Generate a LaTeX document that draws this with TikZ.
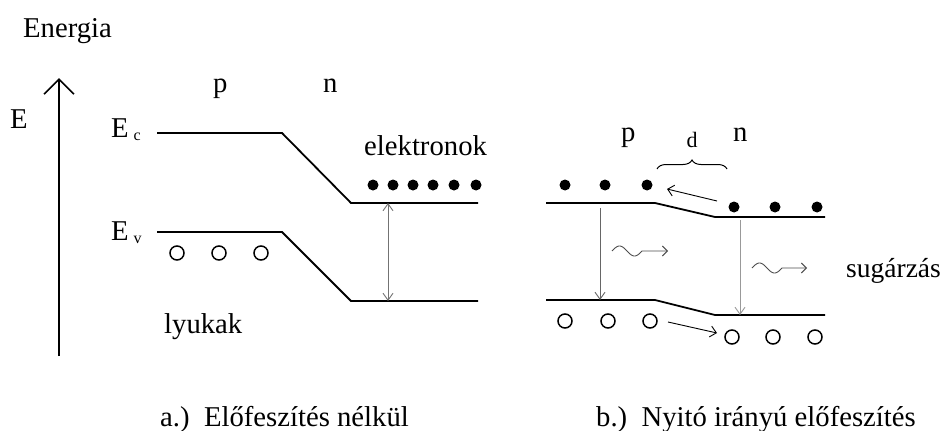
\documentclass[tikz,border=0pt]{standalone}
\usepackage{fontspec}
\setmainfont{Liberation Serif}
\usetikzlibrary{arrows.meta,decorations.pathreplacing}
\tikzset{
  lbl/.style={font=\fontsize{28.7}{34}\selectfont, inner sep=0pt, anchor=base west},
  band/.style={line width=1.8pt, black},
  gap/.style={line width=0.9pt, black!55},
  flow/.style={line width=0.9pt, black, -{Straight Barb[length=6pt,width=11pt]}},
  electron/.style={circle, fill=black, minimum size=11pt, inner sep=0pt},
  hole/.style={circle, draw=black, line width=1.5pt, minimum size=14pt, inner sep=0pt},
  wiggle/.style={line width=0.9pt, black!70, -{Straight Barb[length=5pt,width=10pt]}}
}
\newcommand{\sbs}[1]{\raisebox{-3pt}{\fontsize{16}{16}\selectfont #1}}
\begin{document}
\begin{tikzpicture}[x=1pt,y=-1pt]
\useasboundingbox (0,0) rectangle (946,431);

% energy axis
\node[lbl] (energia) at (23,37) {Energia};
\node[lbl] (elabel) at (10,128) {E};
\coordinate (axbot) at (59,356);
\coordinate (axtop) at (59,78);
\draw[line width=1.6pt, -{Straight Barb[length=15pt,width=30pt,line width=1.6pt]}] (axbot) -- (axtop);

% ---------- a.) without bias ----------
\node[lbl] (pa) at (213,92) {p};
\node[lbl] (na) at (323,92) {n};
\node[lbl] (ec) at (111,137) {E\,\sbs{c}};
\node[lbl] (ev) at (111,240) {E\,\sbs{v}};

\coordinate (c1) at (157,133); \coordinate (c2) at (282,133);
\coordinate (c3) at (351,203); \coordinate (c4) at (478,203);
\coordinate (v1) at (157,232); \coordinate (v2) at (282,232);
\coordinate (v3) at (351,301); \coordinate (v4) at (478,301);
\draw[band] (c1) -- (c2) -- (c3) -- (c4);
\draw[band] (v1) -- (v2) -- (v3) -- (v4);

\coordinate (gt) at (388,203); \coordinate (gb) at (388,301);
\draw[gap, {Straight Barb[length=7pt,width=10pt]}-{Straight Barb[length=7pt,width=10pt]}] (gt) -- (gb);

\node[lbl] (elek) at (364,155) {elektronok};
\foreach \x [count=\i] in {373,393,413,433,454,476}
  \node[electron] (ea\i) at (\x,185) {};
\foreach \x [count=\i] in {177,219,261}
  \node[hole] (ha\i) at (\x,253) {};
\node[lbl] (lyuk) at (164,333) {lyukak};

\node[lbl] (capa) at (160,426) {a.)\ \ Előfeszítés nélkül};

% ---------- b.) forward bias ----------
\node[lbl] (pb) at (621,141) {p};
\node[lbl] (nb) at (733,141) {n};
\node[font=\fontsize{22}{25}\selectfont, inner sep=0pt, anchor=base] (dlab) at (692,147) {d};
\coordinate (bl) at (657,169); \coordinate (br) at (727,169);
\draw[line width=1pt, decorate, decoration={brace, amplitude=9pt}] (bl) -- (br);

\coordinate (u1) at (546,203); \coordinate (u2) at (655,203);
\coordinate (u3) at (715,217); \coordinate (u4) at (825,217);
\coordinate (l1) at (546,300); \coordinate (l2) at (655,300);
\coordinate (l3) at (715,315); \coordinate (l4) at (825,315);
\draw[band] (u1) -- (u2) -- (u3) -- (u4);
\draw[band] (l1) -- (l2) -- (l3) -- (l4);

\foreach \x [count=\i] in {565,605,647}
  \node[electron] (ep\i) at (\x,185) {};
\foreach \x [count=\i] in {734,775,817}
  \node[electron] (en\i) at (\x,207) {};
\foreach \x [count=\i] in {565,608,650}
  \node[hole] (hp\i) at (\x,321) {};
\foreach \x [count=\i] in {732,773,815}
  \node[hole] (hn\i) at (\x,337) {};

% carriers drifting across the junction
\coordinate (ef) at (717,201); \coordinate (et) at (667,189);
\draw[flow] (ef) -- (et);
\coordinate (hf) at (668,322); \coordinate (ht) at (717,333);
\draw[flow] (hf) -- (ht);

% recombination
\coordinate (r1t) at (600,208); \coordinate (r1b) at (600,300);
\draw[line width=0.9pt, black!60, -{Straight Barb[length=7pt,width=10pt]}] (r1t) -- (r1b);
\coordinate (r2t) at (740,220); \coordinate (r2b) at (740,315);
\draw[line width=0.9pt, black!40, -{Straight Barb[length=7pt,width=10pt]}] (r2t) -- (r2b);

% emitted photons
\coordinate (w1s) at (612,251); \coordinate (w1e) at (668,251);
\draw[wiggle] plot[domain=0:1, samples=40] ({612+30*\x},{251-5*sin(360*\x)}) -- (w1e);
\coordinate (w2s) at (752,268); \coordinate (w2e) at (807,268);
\draw[wiggle] plot[domain=0:1, samples=40] ({752+30*\x},{268-5*sin(360*\x)}) -- (w2e);

\node[lbl, font=\fontsize{27.5}{32}\selectfont] (sug) at (846,277) {sugárzás};

\node[lbl] (capb) at (596,426) {b.)\ \ Nyitó irányú előfeszítés};
\end{tikzpicture}
\end{document}
